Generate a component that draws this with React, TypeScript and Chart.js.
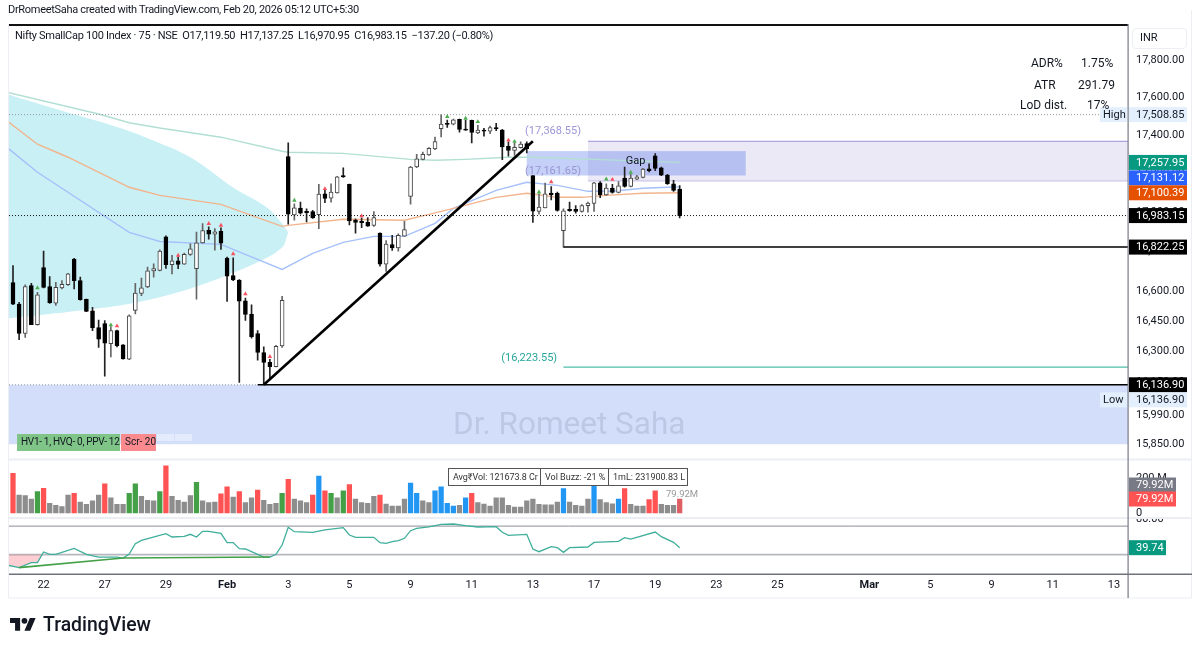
import { useEffect, useRef } from "react"
import { Chart, registerables } from "chart.js"

Chart.register(...registerables)

const FONT = 'Roboto, sans-serif'

// 75 minute bars
const opens = [
  16643, 16535, 16389, 16628, 16433, 16718, 16623, 16540, 16616, 16633,
  16761, 16653, 16559, 16501, 16418, 16438, 16339, 16403, 16333, 16262,
  16504, 16589, 16621, 16701, 16704, 16875, 16733, 16753, 16736, 16785,
  16713, 16844, 16908, 16888, 16902, 16766, 16678, 16656, 16552, 16484,
  16388, 16295, 16247, 16226, 16328, 17288, 16986, 17022, 17005, 17003,
  16988, 17095, 17073, 17100, 17189, 17144, 16960, 16954, 16948, 16933,
  16893, 16736, 16835, 16818, 16878, 17082, 17234, 17274, 17297, 17328,
  17435, 17463, 17459, 17484, 17432, 17479, 17412, 17427, 17421, 17440,
  17427, 17342, 17321, 17335, 17356, 17189, 17005, 17023, 17099, 17097,
  16906, 17015, 17015, 17005, 17034, 17046, 17152, 17090, 17125, 17102,
  17176, 17133, 17171, 17180, 17225, 17292, 17230, 17192, 17147, 17119.5,
]
const highs = [
  16729, 16544, 16631, 16639, 16594, 16802, 16673, 16644, 16653, 16690,
  16765, 16670, 16560, 16519, 16456, 16453, 16423, 16406, 16334, 16481,
  16639, 16666, 16721, 16738, 16808, 16880, 16780, 16771, 16792, 16839,
  16899, 16942, 16925, 16916, 16921, 16771, 16768, 16658, 16565, 16532,
  16403, 16323, 16262, 16331, 16574, 17361, 17044, 17052, 17018, 17010,
  17144, 17116, 17147, 17185, 17230, 17145, 16967, 16971, 16973, 17003,
  16895, 16856, 16882, 16890, 16954, 17237, 17300, 17312, 17335, 17391,
  17508.85, 17480, 17486, 17486, 17480, 17480, 17453, 17436, 17449, 17463,
  17431, 17365, 17360, 17365, 17365, 17189, 17095, 17150, 17133, 17104,
  17018, 17052, 17035, 17040, 17052, 17155, 17159, 17147, 17144, 17159,
  17234, 17196, 17191, 17227, 17251, 17304, 17234, 17196, 17165, 17137.25,
]
const lows = [
  16532, 16358, 16369, 16433, 16430, 16616, 16539, 16529, 16611, 16629,
  16611, 16555, 16497, 16403, 16320, 16179, 16274, 16323, 16262, 16260,
  16486, 16577, 16617, 16670, 16702, 16714, 16687, 16713, 16734, 16780,
  16560, 16842, 16863, 16807, 16810, 16549, 16653, 16148, 16454, 16366,
  16257, 16136.9, 16164, 16224, 16320, 16939, 16959, 16990, 16950, 16969,
  16916, 17049, 17052, 17099, 17180, 16935, 16893, 16921, 16928, 16928,
  16726, 16699, 16805, 16802, 16876, 17042, 17230, 17271, 17295, 17325,
  17391, 17441, 17454, 17417, 17425, 17360, 17409, 17395, 17409, 17424,
  17272, 17290, 17295, 17332, 17307, 16948, 16990, 17022, 17064, 17006,
  16822.25, 17005, 16996, 17001, 17001, 17005, 17075, 17087, 17099, 17100,
  17130, 17131, 17168, 17178, 17209, 17215, 17189, 17144, 17107, 16970.95,
]
const closes = [
  16535, 16389, 16623, 16433, 16582, 16619, 16542, 16619, 16634, 16687,
  16653, 16557, 16499, 16416, 16361, 16341, 16403, 16329, 16264, 16477,
  16590, 16617, 16702, 16713, 16802, 16733, 16753, 16734, 16785, 16813,
  16844, 16906, 16888, 16900, 16842, 16675, 16656, 16550, 16484, 16373,
  16295, 16246, 16226, 16326, 16554, 16990, 17023, 16996, 16998, 16971,
  17094, 17071, 17104, 17183, 17182, 16956, 16948, 16947, 16929, 16973,
  16736, 16837, 16818, 16882, 16911, 17234, 17277, 17300, 17332, 17367,
  17459, 17457, 17482, 17431, 17427, 17415, 17427, 17421, 17440, 17435,
  17339, 17321, 17337, 17354, 17330, 17006, 17027, 17095, 17090, 17010,
  17008, 17008, 17005, 17035, 17047, 17152, 17090, 17125, 17102, 17137,
  17133, 17176, 17183, 17223, 17215, 17227, 17192, 17147, 17113, 16983.15,
]

const volumes = [
  227, 103, 99, 80, 122, 141, 55, 44, 36, 103,
  112, 63, 50, 69, 103, 166, 86, 50, 50, 112,
  166, 95, 72, 69, 122, 270, 95, 72, 63, 99,
  175, 69, 59, 63, 109, 149, 91, 122, 59, 86,
  131, 72, 50, 55, 112, 192, 80, 69, 59, 103,
  211, 126, 112, 86, 126, 162, 80, 59, 55, 95,
  103, 51, 40, 40, 80, 171, 112, 69, 59, 126,
  149, 55, 40, 44, 86, 112, 59, 51, 40, 86,
  86, 44, 34, 34, 69, 80, 50, 46, 46, 63,
  139, 63, 44, 40, 80, 154, 76, 59, 53, 80,
  139, 50, 40, 40, 76, 126, 50, 44, 44, 79.92,
]
const volumeKinds = [
  "r", "n", "n", "n", "g", "r", "n", "n", "n", "n",
  "r", "n", "n", "n", "n", "r", "n", "n", "n", "g",
  "g", "n", "n", "n", "g", "r", "n", "n", "n", "n",
  "g", "n", "n", "n", "r", "r", "n", "r", "n", "n",
  "r", "n", "n", "n", "g", "r", "n", "n", "n", "r",
  "b", "r", "g", "n", "g", "r", "n", "n", "n", "n",
  "r", "n", "n", "n", "n", "b", "b", "n", "n", "b",
  "b", "b", "b", "n", "b", "r", "n", "n", "n", "n",
  "n", "n", "n", "n", "n", "n", "n", "n", "n", "n",
  "b", "n", "n", "n", "n", "b", "n", "n", "n", "b",
  "r", "n", "n", "n", "r", "r", "n", "n", "n", "m",
]
const volumeColors: Record<string, string> = {
  r: "#ff5252", n: "#8d8d8d", g: "#43a047", b: "#2196f3", m: "#dd5e63",
}

const rsiBars = [
  -1, 1, 3, 4, 5, 6, 7, 10, 12, 14, 17, 18, 19, 20, 21, 25, 26, 28, 29, 30,
  31, 32, 34, 35, 36, 37, 38, 41, 42, 43, 44, 45, 46, 49, 51, 54, 55, 56, 59, 60,
  61, 62, 63, 64, 65, 66, 68, 70, 72, 74, 76, 79, 80, 81, 84, 85, 86, 88, 89, 90,
  91, 94, 95, 99, 100, 101, 105, 106, 108, 109,
]
const rsiValues = [
  15.4, 11.7, 18.7, 18.7, 33.7, 30.4, 30.4, 38.8, 30.4, 26.6, 26.6, 25.2, 30.9, 45.4, 50, 59.4, 54.7, 55.7, 58.5, 54.7,
  62.7, 62.7, 59.9, 46.8, 46.8, 38.3, 37.9, 26.6, 26.6, 30.4, 43.5, 68.3, 62.2, 61.3, 64.6, 67.8, 57.5, 54.3, 54.3, 46.8,
  45.8, 48.2, 49.6, 52.9, 63.6, 66.9, 68.8, 72.5, 73, 70.6, 68.8, 69.2, 61.3, 57.1, 58.5, 37.9, 34.1, 41.2, 39.8, 33.2,
  39.8, 40.7, 47.2, 48.6, 53.8, 51.9, 61.7, 55.2, 47.2, 39.74,
]
const rsiTrendBars = [1, 18, 42]
const rsiTrendValues = [11.7, 25.2, 26.6]

const tealBars = [-1, 14, 19, 24, 34, 44, 45, 54, 65, 69, 74, 81, 85, 109]
const tealValues = [17628, 17512, 17466, 17438, 17390, 17316, 17311, 17305, 17274, 17269, 17274, 17285, 17285, 17257.95]
const orangeBars = [-1, 4, 9, 19, 24, 34, 44, 45, 54, 64, 68, 72, 79, 84, 89, 93, 97, 103, 109]
const orangeValues = [17477, 17353, 17285, 17129, 17087, 17041, 16928, 16933, 16964, 16959, 16989, 17020, 17077, 17098, 17077, 17077, 17087, 17098, 17100.39]
const blueBars = [-1, 4, 19, 24, 34, 44, 49, 54, 59, 64, 69, 72, 79, 84, 89, 94, 98, 103, 107, 109]
const blueValues = [17337, 17207, 16897, 16851, 16836, 16709, 16790, 16846, 16877, 16877, 16943, 17020, 17113, 17155, 17139, 17108, 17108, 17124, 17129, 17131.12]

// the big ellipse, upper and lower edge
const ellipseTopBars = [-1, 5, 11, 17, 22, 29, 36, 41.5, 44, 45]
const ellipseTopValues = [17618, 17559, 17501, 17443, 17385, 17285, 17128, 17025, 16943, 16897]
const ellipseLowBars = [-1, 11, 20, 28, 35, 40, 44, 45]
const ellipseLowValues = [16463, 16503, 16542, 16603, 16680, 16745, 16820, 16897]

const redMarkBars = [17, 27, 32, 34, 36, 38, 42, 51, 57, 81, 88, 98]
const redMarkValues = [16426, 16780, 16942, 16933, 16788, 16586, 16275, 17121, 16981, 17374, 17157, 17169]
const greenMarkBars = [4, 16, 46, 71, 74, 76, 82, 86, 97, 101]
const greenMarkValues = [16616, 16431, 17061, 17498, 17489, 17471, 17367, 17104, 17171, 17206]

const dayTickBars = [5, 15, 25, 35, 45, 55, 65, 75, 85, 95, 105, 115, 125, 140, 150, 160, 170, 180]
const dayTickLabels = ["22", "27", "29", "Feb", "3", "5", "9", "11", "13", "17", "19", "23", "25", "Mar", "5", "9", "11", "13"]
const priceTicks = [17800, 17600, 17400, 17200, 17000, 16800, 16600, 16450, 16300, 16150, 15990, 15850]

const priceTagValues = [17508.85, 17257.95, 17131.12, 17100.39, 16983.15, 16822.25, 16136.9, 16136.9]
const priceTagFills = ["#e3effd", "#089981", "#2962ff", "#e65100", "#000000", "#000000", "#000000", "#e3effd"]
const priceTagShifts = [0, 0, -9, 0, 0, 0, 0, 15]

const fmt = (v: number) => v.toLocaleString("en-US", { minimumFractionDigits: 2, maximumFractionDigits: 2 })
const pts = (xs: number[], ys: number[]) => xs.map((x, i) => ({ x, y: ys[i] }))
const barIdx = opens.map((_, i) => i)
const X_MIN = -0.654
const X_MAX = 182.3

const level = (x0: number, x1: number, y: number, color: string, width: number, dash: number[] = []) => ({
  type: "line" as const,
  data: [{ x: x0, y }, { x: x1, y }],
  borderColor: color,
  borderWidth: width,
  borderDash: dash,
  pointRadius: 0,
  order: 6,
})
const curve = (xs: number[], ys: number[], color: string) => ({
  type: "line" as const,
  data: pts(xs, ys),
  borderColor: color,
  borderWidth: 1.4,
  pointRadius: 0,
  order: 50,
})
const marks = (xs: number[], ys: number[], color: string) => ({
  type: "line" as const,
  data: pts(xs, ys),
  showLine: false,
  pointStyle: "triangle",
  pointRadius: 2.6,
  pointBorderWidth: 0,
  pointBackgroundColor: color,
  order: 5,
})

function tag(ctx: CanvasRenderingContext2D, y: number, w: number, fill: string, ink: string, text: string) {
  ctx.fillStyle = fill
  ctx.fillRect(1129, y - 7.5, w, 15)
  ctx.fillStyle = ink
  ctx.textAlign = "left"
  ctx.textBaseline = "middle"
  ctx.font = `11px ${FONT}`
  ctx.fillText(text, 1136, y + 0.5)
}

const panes = {
  id: "panes",
  beforeDatasetsDraw(chart: any) {
    const { ctx, scales } = chart
    const { x, y } = scales
    ctx.save()
    // low zone
    ctx.fillStyle = "#d3defb"
    ctx.fillRect(x.left, y.getPixelForValue(16136.9), x.right - x.left, y.getPixelForValue(15850) - y.getPixelForValue(16136.9))
    // gap zone
    const gx = x.getPixelForValue(94)
    const gt = y.getPixelForValue(17368.55)
    const gb = y.getPixelForValue(17161.65)
    ctx.fillStyle = "#ebe9f6"
    ctx.fillRect(gx, gt, x.right - gx, gb - gt)
    ctx.fillStyle = "#9c93d6"
    ctx.fillRect(gx, gt - 0.5, x.right - gx, 1)
    ctx.fillStyle = "#c4bee6"
    ctx.fillRect(gx, gb - 0.5, x.right - gx, 1)
    // blue box
    const bx0 = x.getPixelForValue(84)
    const bx1 = x.getPixelForValue(119.8)
    const bt = y.getPixelForValue(17317)
    const bb = y.getPixelForValue(17190)
    ctx.fillStyle = "rgba(60,100,230,0.3)"
    ctx.fillRect(bx0, bt, bx1 - bx0, bb - bt)
    ctx.restore()
  },
  afterDatasetsDraw(chart: any) {
    const { ctx, scales } = chart
    const { x, y } = scales
    ctx.save()
    ctx.textAlign = "center"
    ctx.textBaseline = "middle"
    ctx.font = `11px ${FONT}`
    ctx.fillStyle = "#9a95d4"
    ctx.fillText("(17,368.55)", x.getPixelForValue(88.3), y.getPixelForValue(17422))
    ctx.fillText("(17,161.65)", x.getPixelForValue(88.3), y.getPixelForValue(17212))
    ctx.fillStyle = "#26a69a"
    ctx.fillText("(16,223.55)", x.getPixelForValue(84.4), y.getPixelForValue(16269))
    ctx.fillStyle = "#131722"
    ctx.fillText("Gap", x.getPixelForValue(101.8), y.getPixelForValue(17264))
    ctx.restore()
  },
  afterDraw(chart: any) {
    const { ctx, scales, chartArea } = chart
    const { y, vol, rsi } = scales
    const rule = (x0: number, y0: number, w: number, h: number, c: string) => {
      ctx.fillStyle = c
      ctx.fillRect(x0, y0, w, h)
    }
    ctx.save()
    // top of the 80 label sits under the volume pane
    ctx.save()
    ctx.beginPath()
    ctx.rect(1129, rsi.top, 60, 20)
    ctx.clip()
    ctx.fillStyle = "#131722"
    ctx.font = `11px ${FONT}`
    ctx.textAlign = "left"
    ctx.textBaseline = "middle"
    ctx.fillText(fmt(80), 1136, rsi.getPixelForValue(80))
    ctx.restore()

    rule(8, 24, 1120, 2, "#111")
    rule(8, 24, 1, 574, "#eceef3")
    rule(1191, 10, 1, 588, "#eceef3")
    rule(8, 597.5, 1184, 1, "#eceef3")
    rule(9, vol.top - 1, 1183, 2, "#eceef3")
    rule(9, rsi.top - 1, 1183, 2, "#eceef3")
    rule(9, chartArea.bottom - 0.5, 1183, 1.5, "#6f727c")
    rule(1127.5, 24, 1.2, 574, "#787b86")

    priceTagValues.forEach((v, i) => {
      const py = y.getPixelForValue(v) + priceTagShifts[i]
      const pale = priceTagFills[i] === "#e3effd"
      tag(ctx, py, 58, priceTagFills[i], pale ? "#131722" : "#fff", fmt(v))
      if (pale) {
        ctx.fillStyle = "#e3effd"
        ctx.fillRect(1100, py - 7.5, 27, 15)
        ctx.fillStyle = "#131722"
        ctx.fillText(i === 0 ? "High" : "Low", 1103, py + 0.5)
      }
    })
    const vy = vol.getPixelForValue(volumes[volumes.length - 1])
    tag(ctx, vy - 14, 47, "#787b86", "#fff", "79.92M")
    tag(ctx, vy, 47, "#ff5252", "#fff", "79.92M")
    tag(ctx, rsi.getPixelForValue(rsiValues[rsiValues.length - 1]), 37, "#089981", "#fff", "39.74")
    ctx.restore()
  },
}

function Label({ x, y, size = 12, color = "#131722", weight = 400, spacing = 0, children }: any) {
  return (
    <span
      style={{
        position: "absolute",
        left: x,
        top: y - size * 0.7,
        fontFamily: FONT,
        fontSize: size,
        lineHeight: `${size * 1.4}px`,
        letterSpacing: spacing,
        color,
        fontWeight: weight,
        whiteSpace: "pre",
      }}
    >
      {children}
    </span>
  )
}

function Block({ x, y, w, h, style }: any) {
  return <div style={{ position: "absolute", left: x, top: y, width: w, height: h, boxSizing: "border-box", ...style }} />
}

export default function App() {
  const canvasRef = useRef<HTMLCanvasElement>(null)

  useEffect(() => {
    if (!canvasRef.current) return
    const fixWidth = (s: any) => { s.width = 64 }
    const chart = new Chart(canvasRef.current, {
      type: "bar",
      data: {
        datasets: [
          {
            type: "line",
            data: pts(ellipseTopBars, ellipseTopValues),
            borderWidth: 0,
            pointRadius: 0,
            tension: 0.35,
            fill: "+1",
            backgroundColor: "#c9f0f5",
            order: 100,
          },
          {
            type: "line",
            data: pts(ellipseLowBars, ellipseLowValues),
            borderWidth: 0,
            pointRadius: 0,
            tension: 0.35,
            order: 100,
          },
          curve(tealBars, tealValues, "#b2dfd4"),
          curve(orangeBars, orangeValues, "#f2b48c"),
          curve(blueBars, blueValues, "#a5c0fb"),
          level(X_MIN, X_MAX, 17508.85, "#9598a1", 1, [1, 2]),
          level(X_MIN, X_MAX, 16983.15, "#111", 1, [1, 2]),
          level(X_MIN, 40, 16136.9, "#9598a1", 1, [1, 2]),
          level(40, X_MAX, 16136.9, "#000", 1.5),
          level(90, X_MAX, 16822.25, "#000", 1.5),
          level(90, X_MAX, 16223.55, "#4dbfa9", 1.4),
          {
            type: "bar",
            data: barIdx.map((i) => ({ x: i, y: [lows[i], highs[i]] })),
            backgroundColor: barIdx.map((i) => (closes[i] >= opens[i] ? "#666" : "#222")),
            barThickness: 1,
            grouped: false,
            order: 20,
          },
          {
            type: "bar",
            data: barIdx.map((i) => ({ x: i, y: [opens[i], closes[i]] })),
            backgroundColor: barIdx.map((i) => (closes[i] >= opens[i] ? "#fff" : "#000")),
            borderColor: barIdx.map((i) => (closes[i] >= opens[i] ? "#444" : "#000")),
            borderWidth: 1,
            borderSkipped: false,
            barThickness: 4,
            grouped: false,
            order: 10,
          },
          marks(redMarkBars, redMarkValues, "#f7525f"),
          marks(greenMarkBars, greenMarkValues, "#4caf50"),
          {
            type: "line",
            data: [{ x: 41, y: 16136.9 }, { x: 85, y: 17368.55 }],
            borderColor: "#000",
            borderWidth: 2.6,
            pointRadius: 0,
            order: 4,
          },
          {
            type: "bar",
            yAxisID: "vol",
            data: barIdx.map((i) => ({ x: i, y: volumes[i] })),
            backgroundColor: volumeKinds.map((k) => volumeColors[k]),
            barThickness: 4.6,
            grouped: false,
          },
          {
            type: "line",
            yAxisID: "rsi",
            data: pts(rsiBars.slice(0, 5), rsiValues.slice(0, 5)),
            borderWidth: 0,
            pointRadius: 0,
            fill: { target: { value: 30 }, above: "rgba(0,0,0,0)", below: "rgba(247,82,95,0.28)" },
            order: 30,
          },
          {
            type: "line",
            yAxisID: "rsi",
            data: pts(rsiBars, rsiValues),
            borderColor: "#3fae9b",
            borderWidth: 1.3,
            pointRadius: 0,
          },
          {
            type: "line",
            yAxisID: "rsi",
            data: pts(rsiTrendBars, rsiTrendValues),
            borderColor: "#43a047",
            borderWidth: 1.6,
            pointRadius: 0,
            order: -1,
          },
          {
            type: "line",
            yAxisID: "rsi",
            data: [{ x: X_MIN, y: 70 }, { x: X_MAX, y: 70 }],
            borderColor: "#8a8d96",
            borderWidth: 1,
            pointRadius: 0,
            order: 40,
          },
          {
            type: "line",
            yAxisID: "rsi",
            data: [{ x: X_MIN, y: 30 }, { x: X_MAX, y: 30 }],
            borderColor: "#b6b8bf",
            borderWidth: 1.6,
            pointRadius: 0,
            order: 40,
          },
        ] as any,
      },
      options: {
        responsive: false,
        devicePixelRatio: 1,
        animation: false,
        events: [],
        layout: { padding: { left: 9, top: 24.5, right: 8, bottom: 54 } },
        plugins: { legend: { display: false }, tooltip: { enabled: false } },
        scales: {
          x: {
            type: "linear",
            offset: false,
            min: X_MIN,
            max: X_MAX,
            bounds: "data",
            grid: { display: false, drawTicks: false },
            border: { display: false },
            afterBuildTicks: (s: any) => { s.ticks = dayTickBars.map((value) => ({ value })) },
            afterFit: (s: any) => { s.height = 24 },
            ticks: {
              autoSkip: false,
              maxRotation: 0,
              padding: 5,
              color: "#131722",
              font: (c: any) => {
                const i = dayTickBars.indexOf(c.tick?.value)
                const major = i >= 0 && /[A-Z]/.test(dayTickLabels[i])
                return { family: FONT, size: 11, weight: major ? "bold" : "normal" }
              },
              callback: (v: any) => dayTickLabels[dayTickBars.indexOf(v)] ?? "",
            },
          },
          y: {
            type: "logarithmic",
            position: "right",
            stack: "panes",
            stackWeight: 435,
            weight: 0,
            min: 15777,
            max: 17992,
            bounds: "data",
            grid: { display: false, drawTicks: false },
            border: { display: false },
            afterBuildTicks: (s: any) => { s.ticks = priceTicks.map((value) => ({ value })) },
            afterFit: fixWidth,
            ticks: {
              autoSkip: false,
              padding: 8,
              color: "#131722",
              font: { family: FONT, size: 11 },
              callback: (v: any) => fmt(v),
            },
          },
          vol: {
            type: "linear",
            axis: "y",
            position: "right",
            stack: "panes",
            stackWeight: 58.5,
            weight: 1,
            min: -28.6,
            max: 305.6,
            bounds: "data",
            grid: { display: false, drawTicks: false },
            border: { display: false },
            afterBuildTicks: (s: any) => { s.ticks = [{ value: 0 }, { value: 200 }] },
            afterFit: fixWidth,
            ticks: {
              autoSkip: false,
              padding: 8,
              color: "#131722",
              font: { family: FONT, size: 11 },
              callback: (v: any) => (v === 0 ? "0" : `${v} M`),
            },
          },
          rsi: {
            type: "linear",
            axis: "y",
            position: "right",
            stack: "panes",
            stackWeight: 56,
            weight: 2,
            min: 2.8,
            max: 81.4,
            bounds: "data",
            grid: { display: false, drawTicks: false },
            border: { display: false },
            afterBuildTicks: (s: any) => { s.ticks = [] },
            afterFit: fixWidth,
            ticks: { display: false },
          },
        } as any,
      },
      plugins: [panes],
    } as any)

    return () => chart.destroy()
  }, [])

  return (
    <div style={{ position: "fixed", left: 0, top: 0, width: 1200, height: 652, background: "#fff", overflow: "hidden" }}>
      <canvas ref={canvasRef} width={1200} height={652} style={{ position: "absolute", left: 0, top: 0 }} />

      <Label x={8} y={10} size={11} spacing={-0.3}>DrRomeetSaha created with TradingView.com, Feb 20, 2026 05:12 UTC+5:30</Label>
      <Label x={15} y={36} size={11} spacing={-0.3}>Nifty SmallCap 100 Index · 75 · NSE  O17,119.50  H17,137.25  L16,970.95  C16,983.15  −137.20 (−0.80%)</Label>

      <Label x={1031} y={63} size={12}>ADR%</Label>
      <Label x={1081} y={63} size={12}>1.75%</Label>
      <Label x={1034} y={85} size={12}>ATR</Label>
      <Label x={1078} y={85} size={12}>291.79</Label>
      <Label x={1020} y={105} size={12}>LoD dist.</Label>
      <Label x={1087} y={105} size={12}>17%</Label>

      <Block x={1132} y={28} w={55} h={21} style={{ border: "1px solid #eceef3", borderRadius: 4 }} />
      <Label x={1140} y={38} size={11}>INR</Label>

      <Label x={453} y={424} size={31.5} color="#bcc8e4">Dr. Romeet Saha</Label>

      <Block x={17} y={434} w={103} h={17} style={{ background: "#7fc587" }} />
      <Block x={121} y={434} w={35} h={17} style={{ background: "#fb8a8f" }} />
      <Block x={157} y={434} w={17} h={7} style={{ background: "#e4ebfc" }} />
      <Block x={175} y={434} w={17} h={7} style={{ background: "#e4ebfc" }} />
      <Label x={21} y={442} size={10} spacing={-0.3}>HV1- 1, HVQ- 0, PPV- 12</Label>
      <Label x={125} y={442} size={10}>Scr- 20</Label>

      <Block x={448} y={468} w={93} h={18} style={{ border: "1px solid #555" }} />
      <Block x={540} y={468} w={69} h={18} style={{ border: "1px solid #555" }} />
      <Block x={608} y={468} w={80} h={18} style={{ border: "1px solid #555" }} />
      <Label x={453} y={477} size={9} color="#333" spacing={-0.05}>Avg₹Vol: 121673.8 Cr</Label>
      <Label x={545} y={477} size={9} color="#333">Vol Buzz: -21 %</Label>
      <Label x={613} y={477} size={9} color="#333">1mL: 231900.83 L</Label>
      <Label x={666} y={494} size={9.5} color="#9a9a9a">79.92M</Label>

      <svg viewBox="0 0 36 28" width={26} height={20.2} style={{ position: "absolute", left: 10, top: 615 }}>
        <path fill="#131722" d="M14 22H7V11H0V4h14v18zM28 22h-8l7.5-18h8L28 22z" />
        <circle fill="#131722" cx="20" cy="8" r="4" />
      </svg>
      <Label x={43} y={625} size={19.4} weight={500}>TradingView</Label>
    </div>
  )
}
